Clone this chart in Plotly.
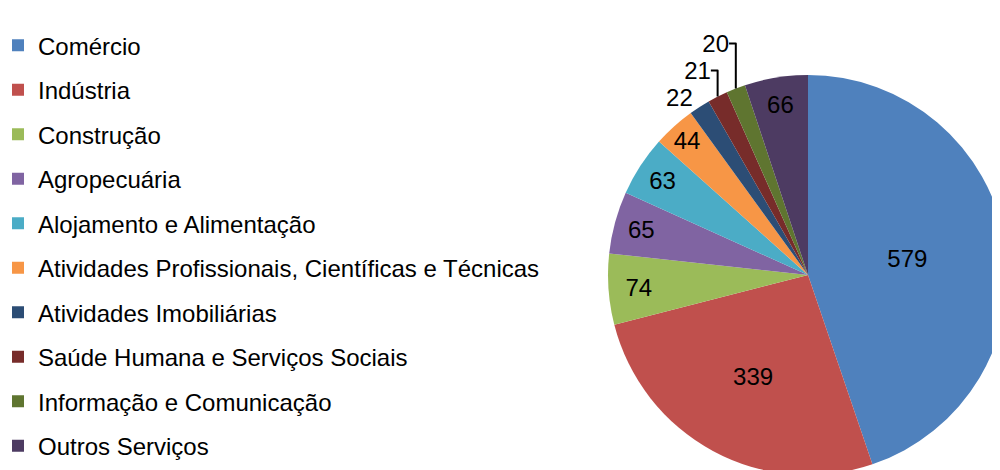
import plotly.graph_objects as go

categories = ["Comércio", "Indústria", "Construção", "Agropecuária",
              "Alojamento e Alimentação",
              "Atividades Profissionais, Científicas e Técnicas",
              "Atividades Imobiliárias", "Saúde Humana e Serviços Sociais",
              "Informação e Comunicação", "Outros Serviços"]
values = [579, 339, 74, 65, 63, 44, 22, 21, 20, 66]
colors = ["#4F81BD", "#C0504D", "#9BBB59", "#8064A2", "#4BACC6",
          "#F79646", "#2C4D75", "#772C2A", "#5F7530", "#4D3B62"]
text_positions = ["inside"] * 6 + ["outside"] * 3 + ["inside"]

FONT = "Liberation Sans, Arial, sans-serif"

fig = go.Figure()
fig.add_trace(go.Pie(
    labels=categories, values=values, sort=False, direction="clockwise",
    rotation=0, textinfo="value", textposition=text_positions,
    insidetextorientation="horizontal", automargin=False,
    marker=dict(colors=colors, line=dict(width=0)),
    textfont=dict(family=FONT, size=24, color="black"),
    showlegend=False,
    domain=dict(x=[0.6, 1.0], y=[0.0064, 0.8574]),
))

for cat, col in zip(categories, colors):
    fig.add_trace(go.Scatter(
        x=[None], y=[None], mode="markers", name=cat, legendgroup=cat,
        marker=dict(symbol="square", size=12, color=col),
        hoverinfo="skip",
    ))

fig.update_layout(
    width=1000, height=470,
    margin=dict(l=0, r=0, t=0, b=0, autoexpand=False),
    paper_bgcolor="white", plot_bgcolor="white",
    xaxis=dict(visible=False), yaxis=dict(visible=False),
    legend=dict(x=0.0, y=0.9677, xanchor="left", yanchor="top",
                indentation=-10,
                font=dict(family=FONT, size=24, color="black"),
                tracegroupgap=10.3, itemwidth=30, bgcolor="rgba(0,0,0,0)"),
    font=dict(family=FONT),
)

fig.write_html("out.html")
